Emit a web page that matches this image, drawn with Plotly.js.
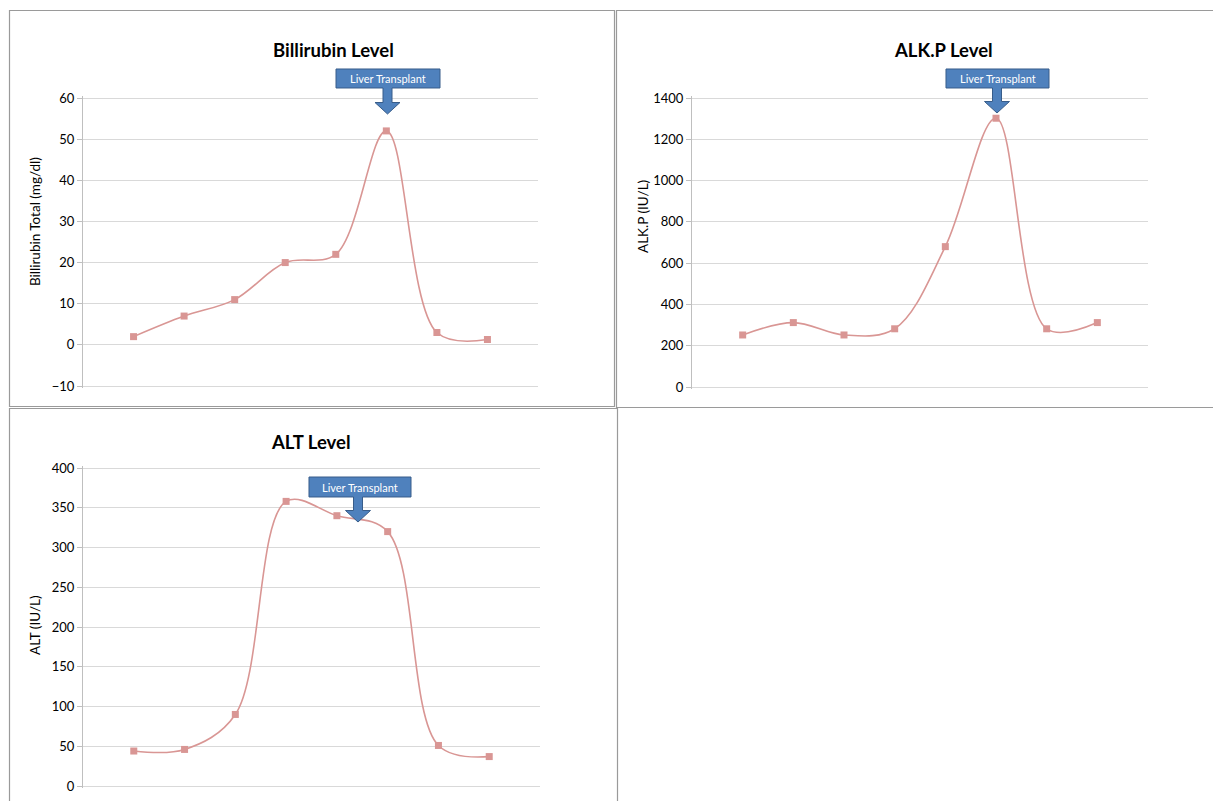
<!DOCTYPE html>
<html>
<head>
<meta charset="utf-8">
<script src="https://cdn.plot.ly/plotly-3.0.1.min.js"></script>
<style>
html,body{margin:0;padding:0;background:#fff;}
#chart{width:1213px;height:801px;}
</style>
</head>
<body>
<div id="chart"></div>
<script>
// Data (visit index 1..8)
var visits = [1, 2, 3, 4, 5, 6, 7, 8];
var bilirubin = [2, 7, 11, 20, 22, 52, 3, 1.3];
var alkp = [252, 312, 252, 282, 680, 1302, 282, 312];
var alt = [44, 46, 90, 358, 340, 320, 51, 37];
var chartTitles = ["Billirubin Level", "ALK.P Level", "ALT Level"];
var yTitles = ["Billirubin Total (mg/dl)", "ALK.P (IU/L)", "ALT (IU/L)"];
var calloutText = "Liver Transplant";

var W = 1213, H = 801;
function px(x){ return x / W; }
function py(y){ return 1 - y / H; }

var FONT = "Lato, Carlito, Calibri, 'Liberation Sans', sans-serif";
var LINE = "#D99694";

function series(y, xa, ya){
  return {
    x: visits, y: y, xaxis: xa, yaxis: ya,
    type: "scatter", mode: "lines+markers",
    line: {color: LINE, width: 1.6, shape: "spline", smoothing: 1},
    marker: {symbol: "square", size: 7, color: LINE},
    hoverinfo: "y", showlegend: false, cliponaxis: false
  };
}

var data = [
  series(bilirubin, "x", "y"),
  series(alkp, "x2", "y2"),
  series(alt, "x3", "y3")
];

// y axis: pixel positions of lowest/highest gridline, their values; pad 2px each side
function yax(pBottom, pTop, vMin, vMax, dtick, anchor){
  var pad = 2;
  var upp = (vMax - vMin) / (pBottom - pTop);
  return {
    domain: [py(pBottom + pad), py(pTop - pad)],
    range: [vMin - pad * upp, vMax + pad * upp],
    tick0: vMin, dtick: dtick, anchor: anchor,
    showgrid: true, gridcolor: "#D9D9D9", gridwidth: 1,
    zeroline: false, showline: true, linecolor: "#BFBFBF", linewidth: 1,
    ticks: "outside", ticklen: 5, tickcolor: "#BFBFBF",
    tickfont: {family: FONT, size: 13, color: "#000"},
    fixedrange: true
  };
}
function xax(domain, anchor){
  return {
    domain: domain, range: [0, 9], anchor: anchor,
    showgrid: false, zeroline: false, showline: false,
    showticklabels: false, ticks: "", fixedrange: true
  };
}

// Panel rectangles (pixel positions)
var panels = [
  {x0: 9.5, y0: 10.5, x1: 614.5, y1: 406.5},
  {x0: 616.5, y0: 10.5, x1: 1216, y1: 407.5},
  {x0: 9.5, y0: 408.5, x1: 617.5, y1: 804}
];

var shapes = panels.map(function(p){
  return {type: "rect", xref: "paper", yref: "paper",
    x0: px(p.x0), x1: px(p.x1), y0: py(p.y1), y1: py(p.y0),
    line: {color: "#9A9A9A", width: 1.2}, fillcolor: "rgba(0,0,0,0)", layer: "below"};
});

// Down-arrow callouts (box left,right,top,bottom; tip x, head start y, tip y)
var callouts = [
  {l: 336, r: 440, t: 69, b: 88, cx: 387.5, hs: 102.5, tip: 114},
  {l: 946, r: 1049, t: 69, b: 88, cx: 997, hs: 101.5, tip: 113},
  {l: 309, r: 411, t: 477, b: 497, cx: 358, hs: 510.5, tip: 522}
];
var annotations = [];
callouts.forEach(function(c){
  var sw = 4.5, hw = 12.5;
  var pts = [
    [c.l, c.t], [c.r, c.t], [c.r, c.b], [c.cx + sw, c.b], [c.cx + sw, c.hs],
    [c.cx + hw, c.hs], [c.cx, c.tip], [c.cx - hw, c.hs], [c.cx - sw, c.hs],
    [c.cx - sw, c.b], [c.l, c.b]
  ];
  var path = pts.map(function(p, i){ return (i ? "L" : "M") + px(p[0]).toFixed(5) + "," + py(p[1]).toFixed(5); }).join(" ") + " Z";
  shapes.push({type: "path", xref: "paper", yref: "paper", path: path,
    fillcolor: "#4F81BD", line: {color: "#385D8A", width: 1}, layer: "above"});
  annotations.push({xref: "paper", yref: "paper", x: px((c.l + c.r) / 2), y: py((c.t + c.b) / 2),
    text: calloutText, showarrow: false, xanchor: "center", yanchor: "middle",
    font: {family: FONT, size: 11, color: "#FFFFFF"}});
});

// Chart titles
var titlePos = [[333, 50], [943, 50], [311, 442]];
chartTitles.forEach(function(t, i){
  annotations.push({xref: "paper", yref: "paper", x: px(titlePos[i][0]), y: py(titlePos[i][1]),
    text: "<b>" + t + "</b>", showarrow: false, xanchor: "center", yanchor: "middle",
    font: {family: FONT, size: 18.5, color: "#000"}});
});
// Y axis titles
var yTitlePos = [[35, 222], [643, 217], [35, 625]];
yTitles.forEach(function(t, i){
  annotations.push({xref: "paper", yref: "paper", x: px(yTitlePos[i][0]), y: py(yTitlePos[i][1]),
    text: t, showarrow: false, xanchor: "center", yanchor: "middle", textangle: -90,
    font: {family: FONT, size: 13.5, color: "#000"}});
});

var layout = {
  width: W, height: H,
  margin: {l: 0, r: 0, t: 0, b: 0},
  paper_bgcolor: "#fff", plot_bgcolor: "rgba(0,0,0,0)",
  font: {family: FONT},
  xaxis: xax([px(83), px(538)], "y"),
  yaxis: yax(386, 98, -10, 60, 10, "x"),
  xaxis2: xax([px(692), px(1148)], "y2"),
  yaxis2: yax(387, 98, 0, 1400, 200, "x2"),
  xaxis3: xax([px(83), px(540)], "y3"),
  yaxis3: yax(786, 468, 0, 400, 50, "x3"),
  shapes: shapes,
  annotations: annotations,
  showlegend: false
};

Plotly.newPlot("chart", data, layout, {displayModeBar: false, staticPlot: true});
</script>
</body>
</html>
